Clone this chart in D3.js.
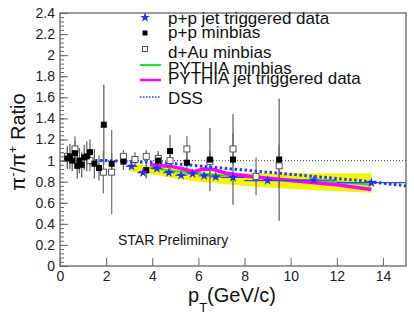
<!DOCTYPE html>
<html>
<head>
<meta charset="utf-8">
<script src="https://cdn.jsdelivr.net/npm/d3@7"></script>
<style>
  body { margin: 0; background: #fff; }
  svg { display: block; font-family: "Liberation Sans", Arial, sans-serif; }
</style>
</head>
<body>
<svg width="414" height="322"></svg>
<script>
// p+p minbias (filled squares)
var ppMinX   = [0.32, 0.43, 0.53, 0.65, 0.75, 0.84, 0.94, 1.05, 1.16, 1.30, 1.49, 1.69, 1.90, 2.24, 2.75, 3.74, 4.26, 4.77, 5.50, 6.50, 7.50, 9.50];
var ppMinY   = [1.02, 1.04, 1.00, 1.07, 0.95, 1.00, 0.96, 1.03, 1.04, 1.08, 0.97, 0.93, 1.34, 0.97, 0.99, 0.91, 1.00, 1.09, 0.98, 1.01, 1.01, 1.01];
var ppMinErr = [0.10, 0.12, 0.10, 0.12, 0.12, 0.12, 0.12, 0.12, 0.14, 0.12, 0.14, 0.12, 0.38, 0.10, 0.08, 0.08, 0.07, 0.15, 0.10, 0.30, 0.43, 0.58];

// d+Au minbias (open squares)
var dAuX   = [0.32, 0.65, 1.30, 1.88, 2.24, 2.75, 3.25, 3.74, 4.26, 4.77, 5.50, 6.50, 7.50, 8.50, 9.50];
var dAuY   = [1.04, 1.11, 1.00, 0.89, 0.89, 1.04, 1.01, 1.04, 1.02, 1.00, 1.11, 0.99, 1.11, 0.85, 0.95];
var dAuErr = [0.10, 0.12, 0.10, 0.20, 0.40, 0.06, 0.07, 0.06, 0.07, 0.12, 0.12, 0.10, 0.15, 0.18, 0.20];

// p+p jet triggered (stars), with bin edges
var jetX   = [3.10, 3.60, 4.20, 4.72, 5.25, 5.75, 6.25, 6.75, 7.50, 9.00, 11.00, 13.50];
var jetY   = [0.945, 0.885, 0.925, 0.885, 0.86, 0.875, 0.855, 0.845, 0.84, 0.81, 0.815, 0.79];
var jetErr = [0.02, 0.02, 0.02, 0.02, 0.02, 0.02, 0.02, 0.02, 0.02, 0.02, 0.02, 0.02];
var jetLo  = [2.85, 3.35, 3.95, 4.47, 5.00, 5.50, 6.00, 6.50, 7.00, 8.00, 10.00, 12.00];
var jetHi  = [3.35, 3.85, 4.45, 4.97, 5.50, 6.00, 6.50, 7.00, 8.00, 10.00, 12.00, 15.00];

// yellow band (systematics)
var bandX  = [3.0, 4.0, 5.0, 6.0, 7.0, 8.0, 10.0, 12.0, 13.5];
var bandHi = [0.97, 0.95, 0.92, 0.895, 0.885, 0.88, 0.88, 0.88, 0.88];
var bandLo = [0.90, 0.87, 0.83, 0.80, 0.78, 0.76, 0.73, 0.71, 0.695];

// PYTHIA minbias (green)
var pyMinX = [3.9, 5.0, 6.0, 7.0, 9.0, 11.0, 13.5];
var pyMinY = [0.93, 0.90, 0.88, 0.86, 0.83, 0.81, 0.77];

// PYTHIA jet triggered (magenta)
var pyJetX = [3.9, 4.8, 5.35, 5.8, 6.2, 6.65, 7.2, 7.7, 8.5, 10.0, 12.0, 13.5];
var pyJetY = [0.96, 0.945, 0.92, 0.895, 0.92, 0.915, 0.88, 0.865, 0.845, 0.81, 0.77, 0.725];

// DSS (blue dotted)
var dssX = [1.3, 2, 3, 4, 5, 6, 7, 8, 9, 10, 11, 12, 13, 14, 15];
var dssY = [1.0, 1.0, 0.99, 0.985, 0.97, 0.95, 0.93, 0.91, 0.89, 0.87, 0.85, 0.83, 0.81, 0.785, 0.76];

var xTicks = [0, 2, 4, 6, 8, 10, 12, 14];
var yTicks = d3.range(13).map(function (i) { return i * 0.2; });

var legendLabels = ["p+p jet triggered data", "p+p minbias", "d+Au minbias", "PYTHIA minbias", "PYTHIA jet triggered data", "DSS"];

var svg = d3.select("svg");
var x = d3.scaleLinear().domain([0, 15]).range([60, 406]);
var y = d3.scaleLinear().domain([0, 2.4]).range([266, 13]);
var fmt = d3.format("~g");

// frame
svg.append("rect")
  .attr("x", 60).attr("y", 13).attr("width", 346).attr("height", 253)
  .attr("fill", "none").attr("stroke", "#666").attr("stroke-width", 1.3);

// y axis minor + major
var ya = svg.append("g").attr("transform", "translate(60,0)");
ya.call(d3.axisLeft(y).tickValues(d3.range(61).map(function (i) { return i * 0.04; }))
  .tickSize(-4).tickFormat(""));
ya.append("g").call(d3.axisLeft(y).tickValues(yTicks).tickSize(-8).tickPadding(5).tickFormat(fmt));
ya.selectAll(".domain").remove();
ya.selectAll("line").attr("stroke", "#666");
ya.selectAll("text").attr("font-size", 14).attr("fill", "#222").style("font-family", "Liberation Sans, Arial, sans-serif");

// x axis
var xa = svg.append("g").attr("transform", "translate(0,266)")
  .call(d3.axisBottom(x).tickValues(xTicks).tickSize(-8).tickPadding(5).tickFormat(fmt));
xa.selectAll(".domain").remove();
xa.selectAll("line").attr("stroke", "#666");
xa.selectAll("text").attr("font-size", 14).attr("fill", "#222").style("font-family", "Liberation Sans, Arial, sans-serif");

// titles
var yt = svg.append("text").attr("transform", "translate(25,142) rotate(-90)")
  .attr("text-anchor", "middle").attr("font-size", 20).attr("fill", "#111");
yt.append("tspan").text("\u03c0");
yt.append("tspan").attr("font-size", 13).attr("dy", -8).text("-");
yt.append("tspan").attr("dy", 8).text("/\u03c0");
yt.append("tspan").attr("font-size", 13).attr("dy", -8).text("+");
yt.append("tspan").attr("dy", 8).text(" Ratio");

var xt = svg.append("text").attr("x", 188).attr("y", 302).attr("font-size", 20).attr("fill", "#111");
xt.append("tspan").text("p");
xt.append("tspan").attr("font-size", 13).attr("dy", 10).text("T");
xt.append("tspan").attr("dy", -10).text("(GeV/c)");

svg.append("text").attr("x", 118).attr("y", 245).attr("font-size", 14).attr("fill", "#111")
  .text("STAR Preliminary");

// reference line at 1
svg.append("line")
  .attr("x1", x(0)).attr("x2", x(15)).attr("y1", y(1)).attr("y2", y(1))
  .attr("stroke", "#555").attr("stroke-width", 1).attr("stroke-dasharray", "1,2");

// band
var band = d3.area().x(function (d, i) { return x(bandX[i]); })
  .y0(function (d, i) { return y(bandLo[i]); })
  .y1(function (d, i) { return y(bandHi[i]); });
svg.append("path").datum(bandX).attr("d", band).attr("fill", "#f5f50a");

var line = d3.line().x(function (d) { return x(d[0]); }).y(function (d) { return y(d[1]); });

svg.append("path").datum(d3.zip(pyMinX, pyMinY)).attr("d", line)
  .attr("fill", "none").attr("stroke", "#22e022").attr("stroke-width", 2);
svg.append("path").datum(d3.zip(pyJetX, pyJetY)).attr("d", line)
  .attr("fill", "none").attr("stroke", "#ff00ff").attr("stroke-width", 3.5);

// error bars
function vbars(xs, ys, es, color) {
  svg.append("g").selectAll("line").data(xs).enter().append("line")
    .attr("x1", function (d) { return x(d); }).attr("x2", function (d) { return x(d); })
    .attr("y1", function (d, i) { return y(ys[i] + es[i]); })
    .attr("y2", function (d, i) { return y(Math.max(0, ys[i] - es[i])); })
    .attr("stroke", color).attr("stroke-width", 1.3);
}
vbars(dAuX, dAuY, dAuErr, "#777");
vbars(ppMinX, ppMinY, ppMinErr, "#666");

// jet horizontal bin bars
svg.append("g").selectAll("line").data(jetX).enter().append("line")
  .attr("x1", function (d, i) { return x(jetLo[i]); })
  .attr("x2", function (d, i) { return x(jetHi[i]); })
  .attr("y1", function (d, i) { return y(jetY[i]); })
  .attr("y2", function (d, i) { return y(jetY[i]); })
  .attr("stroke", "#3344ff").attr("stroke-width", 1.2);
vbars(jetX, jetY, jetErr, "#3344ff");

// DSS
svg.append("path").datum(d3.zip(dssX, dssY)).attr("d", line)
  .attr("fill", "none").attr("stroke", "#1a3cff").attr("stroke-width", 3)
  .attr("stroke-dasharray", "2.5,2.5");

// markers
svg.append("g").selectAll("rect").data(dAuX).enter().append("rect")
  .attr("x", function (d) { return x(d) - 3; })
  .attr("y", function (d, i) { return y(dAuY[i]) - 3; })
  .attr("width", 6).attr("height", 6)
  .attr("fill", "#fff").attr("stroke", "#555").attr("stroke-width", 1);

svg.append("g").selectAll("rect").data(ppMinX).enter().append("rect")
  .attr("x", function (d) { return x(d) - 3; })
  .attr("y", function (d, i) { return y(ppMinY[i]) - 3; })
  .attr("width", 6).attr("height", 6).attr("fill", "#000");

var star = d3.symbol().type(d3.symbolStar).size(30);
svg.append("g").selectAll("path").data(jetX).enter().append("path")
  .attr("d", star)
  .attr("transform", function (d, i) { return "translate(" + x(d) + "," + y(jetY[i]) + ")"; })
  .attr("fill", "#2233ee");

// legend
var legBase = [23.5, 37.5, 57.5, 74, 84, 104];
var legSym = [17.5, 33, 49, 65, 80, 97];
var lg = svg.append("g");
lg.selectAll("text").data(legendLabels).enter().append("text")
  .attr("x", 168).attr("y", function (d, i) { return legBase[i]; })
  .attr("font-size", 17).attr("fill", "#111").text(function (d) { return d; });
lg.append("path").attr("d", star).attr("transform", "translate(145," + legSym[0] + ")").attr("fill", "#2233ee");
lg.append("rect").attr("x", 142.5).attr("y", legSym[1] - 2.5).attr("width", 5).attr("height", 5).attr("fill", "#000");
lg.append("rect").attr("x", 142.5).attr("y", legSym[2] - 2.5).attr("width", 5).attr("height", 5)
  .attr("fill", "#fff").attr("stroke", "#555");
lg.append("line").attr("x1", 140).attr("x2", 161).attr("y1", legSym[3]).attr("y2", legSym[3])
  .attr("stroke", "#22e022").attr("stroke-width", 2);
lg.append("line").attr("x1", 140).attr("x2", 161).attr("y1", legSym[4]).attr("y2", legSym[4])
  .attr("stroke", "#ff00ff").attr("stroke-width", 2.5);
lg.append("line").attr("x1", 140).attr("x2", 161).attr("y1", legSym[5]).attr("y2", legSym[5])
  .attr("stroke", "#1a3cff").attr("stroke-width", 1.5).attr("stroke-dasharray", "1.5,1.5");
</script>
</body>
</html>
